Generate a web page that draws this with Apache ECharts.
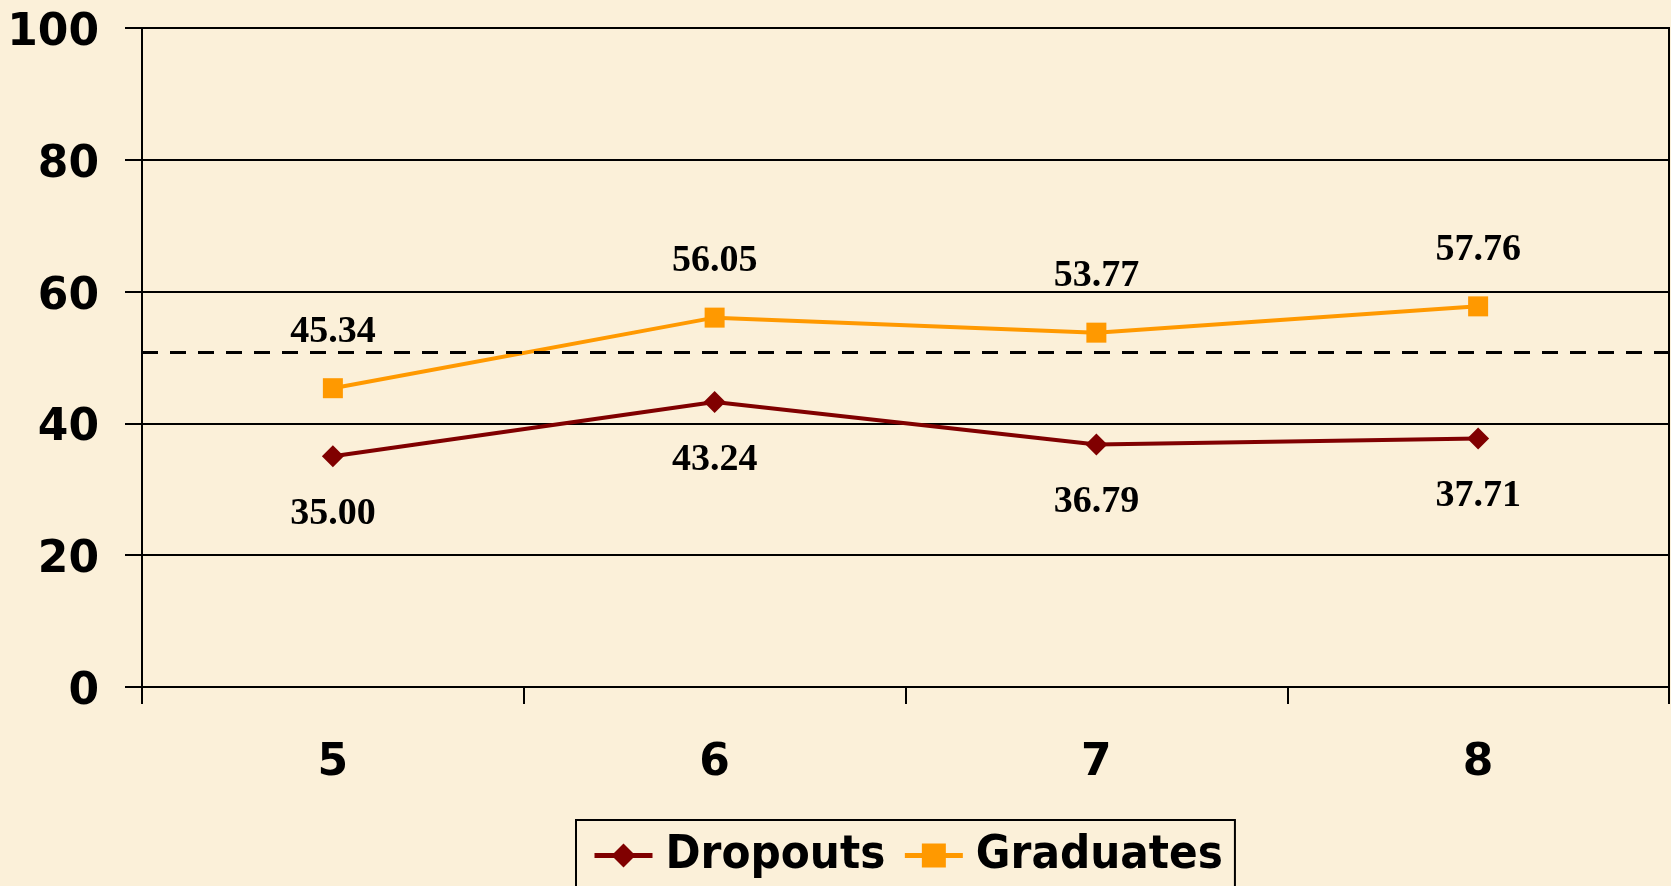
<!DOCTYPE html>
<html>
<head>
<meta charset="utf-8">
<script src="https://cdn.jsdelivr.net/npm/echarts@6/dist/echarts.min.js"></script>
<style>
  html, body { margin: 0; padding: 0; background: #fbf0d9; }
  #lineChart { width: 1671px; height: 886px; }
</style>
</head>
<body>
<div id="lineChart"></div>
<script>
// grades on the x axis
const grades = ['5', '6', '7', '8']
const dropouts = [35.00, 43.24, 36.79, 37.71]
const graduates = [45.34, 56.05, 53.77, 57.76]
// dashed reference line
const refLine = 50.85

const labelFont = {
  fontFamily: '"Liberation Serif", "Times New Roman", serif',
  fontWeight: 'bold',
  fontSize: 38,
  color: '#000'
}

const axisFont = {
  fontFamily: '"DejaVu Sans", Verdana, sans-serif',
  fontWeight: 'bold',
  fontSize: 44,
  color: '#000'
}

const chart = echarts.init(document.getElementById('lineChart'))
chart.setOption({
  backgroundColor: '#fbf0d9',
  animation: false,
  grid: {
    left: 142,
    right: 2,
    top: 28,
    bottom: 199,
    show: true,
    borderColor: '#000',
    borderWidth: 2
  },
  legend: {
    left: 576,
    top: 820,
    padding: [12, 12, 14, 16],
    borderColor: '#000',
    borderWidth: 2,
    itemWidth: 58,
    itemHeight: 30,
    itemGap: 17,
    lineStyle: { width: 5 },
    textStyle: {
      fontFamily: '"DejaVu Sans Condensed", "DejaVu Sans", sans-serif',
      fontWeight: 'bold',
      fontSize: 47,
      padding: [0, 0, 0, 8],
      color: '#000'
    },
    data: ['Dropouts', 'Graduates']
  },
  xAxis: {
    type: 'category',
    data: grades,
    boundaryGap: true,
    axisLine: { lineStyle: { color: '#000', width: 2 } },
    axisTick: { show: true, length: 17, lineStyle: { color: '#000', width: 2 } },
    axisLabel: { margin: 55, ...axisFont }
  },
  yAxis: {
    type: 'value',
    min: 0,
    max: 100,
    interval: 20,
    axisLine: { show: true, lineStyle: { color: '#000', width: 2 } },
    axisTick: { show: true, length: 17, lineStyle: { color: '#000', width: 2 } },
    splitLine: { lineStyle: { color: '#000', width: 2 } },
    axisLabel: { margin: 43, verticalAlign: 'top', lineHeight: 11, ...axisFont }
  },
  series: [
    {
      name: 'Dropouts',
      type: 'line',
      data: dropouts,
      symbol: 'diamond',
      symbolSize: 22,
      color: '#800000',
      lineStyle: { color: '#800000', width: 4 },
      itemStyle: { color: '#800000' },
      label: {
        show: true,
        position: 'bottom',
        distance: 28,
        formatter: p => p.value.toFixed(2),
        ...labelFont
      },
      markLine: {
        silent: true,
        symbol: 'none',
        label: { show: false },
        lineStyle: { color: '#000', width: 3, type: [16, 12] },
        data: [{ yAxis: refLine }]
      }
    },
    {
      name: 'Graduates',
      type: 'line',
      data: graduates,
      symbol: 'rect',
      symbolSize: 20,
      color: '#ff9900',
      lineStyle: { color: '#ff9900', width: 4 },
      itemStyle: { color: '#ff9900' },
      label: {
        show: true,
        position: 'top',
        distance: 27,
        formatter: p => p.value.toFixed(2),
        ...labelFont
      }
    }
  ]
})
</script>
</body>
</html>
